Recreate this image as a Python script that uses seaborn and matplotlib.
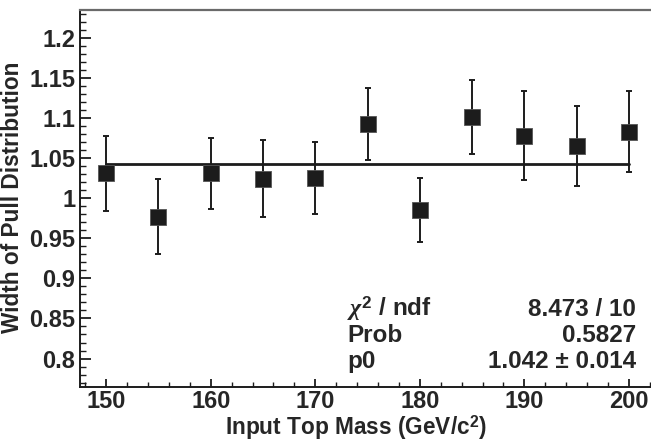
import numpy as np
import pandas as pd
import matplotlib
matplotlib.use("Agg")
import matplotlib.pyplot as plt
from matplotlib.ticker import MultipleLocator, FormatStrFormatter
import seaborn as sns

# data
mass = [150, 155, 160, 165, 170, 175, 180, 185, 190, 195, 200]
width = [1.031, 0.977, 1.031, 1.024, 1.025, 1.092, 0.985, 1.101, 1.078, 1.065, 1.083]
err = [0.047, 0.047, 0.044, 0.048, 0.045, 0.045, 0.040, 0.046, 0.055, 0.050, 0.051]
p0_fit = 1.042
stat_names = [r"$\chi^{2}$ / ndf", "Prob", "p0"]
stat_values = ["8.473 / 10", "0.5827", "1.042 ± 0.014"]

df = pd.DataFrame({"mass": mass, "width": width, "err": err})

sns.set_style("ticks")
plt.rcParams["font.family"] = ["Liberation Sans", "DejaVu Sans"]
plt.rcParams["font.weight"] = "bold"
plt.rcParams["mathtext.fontset"] = "custom"
plt.rcParams["mathtext.rm"] = "Liberation Sans:bold"
plt.rcParams["mathtext.it"] = "Liberation Serif:italic"
plt.rcParams["mathtext.bf"] = "Liberation Sans:bold"

fig = plt.figure(figsize=(6.51, 4.41), dpi=100)
ax = fig.add_axes([0.1229, 0.1224, 0.8833, 0.8549])

dark = "#1c1c1c"
fs = 17.5
fs_tick = 17
fs_lab = 16.3
ax.errorbar(df["mass"], df["width"], yerr=df["err"], fmt="none",
            ecolor=dark, elinewidth=1.4, capsize=2.2, capthick=1.4, zorder=2)
sns.lineplot(x=[mass[0], mass[-1]], y=[p0_fit, p0_fit], ax=ax,
             color=dark, linewidth=2.0, zorder=3)
sns.scatterplot(data=df, x="mass", y="width", marker="s", s=135,
                color=dark, edgecolor="#555555", linewidth=0.6, ax=ax, zorder=4)

ax.set_xlim(147.5, 202.5)
ax.set_ylim(0.7645, 1.2345)
ax.xaxis.set_major_locator(MultipleLocator(10))
ax.xaxis.set_minor_locator(MultipleLocator(2))
ax.yaxis.set_major_locator(MultipleLocator(0.05))
ax.yaxis.set_minor_locator(MultipleLocator(0.01))
ax.yaxis.set_major_formatter(FormatStrFormatter("%g"))

ax.tick_params(axis="both", which="both", direction="in", color=dark,
               labelsize=fs_tick, top=False, right=False)
ax.tick_params(axis="y", which="major", length=8, width=1.3, pad=3.5)
ax.tick_params(axis="y", which="minor", length=4, width=1.0)
ax.tick_params(axis="x", which="major", length=6, width=1.3, pad=2.5)
ax.tick_params(axis="x", which="minor", length=3.5, width=1.0)
for lab in ax.get_xticklabels() + ax.get_yticklabels():
    lab.set_fontweight("bold")

for side in ["left", "bottom"]:
    ax.spines[side].set_color(dark)
    ax.spines[side].set_linewidth(1.4)
ax.spines["top"].set_color("#6a6a6a")
ax.spines["top"].set_linewidth(1.6)
ax.spines["right"].set_visible(False)

ax.set_xlabel("Input Top Mass (GeV/c$^{2}$)", fontsize=fs_lab, fontweight="bold",
              va="baseline")
ax.set_ylabel("Width of Pull Distribution", fontsize=fs_lab, fontweight="bold")
ax.xaxis.set_label_coords(0.48, -0.1265)
ax.yaxis.set_label_coords(-0.098, 0.504)

for i, (name, val) in enumerate(zip(stat_names, stat_values)):
    yy = 316 + i * 26
    fig.text(347 / 651, 1 - yy / 441, name, fontsize=fs, fontweight="bold",
             ha="left", va="baseline")
    fig.text(636 / 651, 1 - yy / 441, val, fontsize=fs, fontweight="bold",
             ha="right", va="baseline")

fig.savefig("out.png", dpi=100)
